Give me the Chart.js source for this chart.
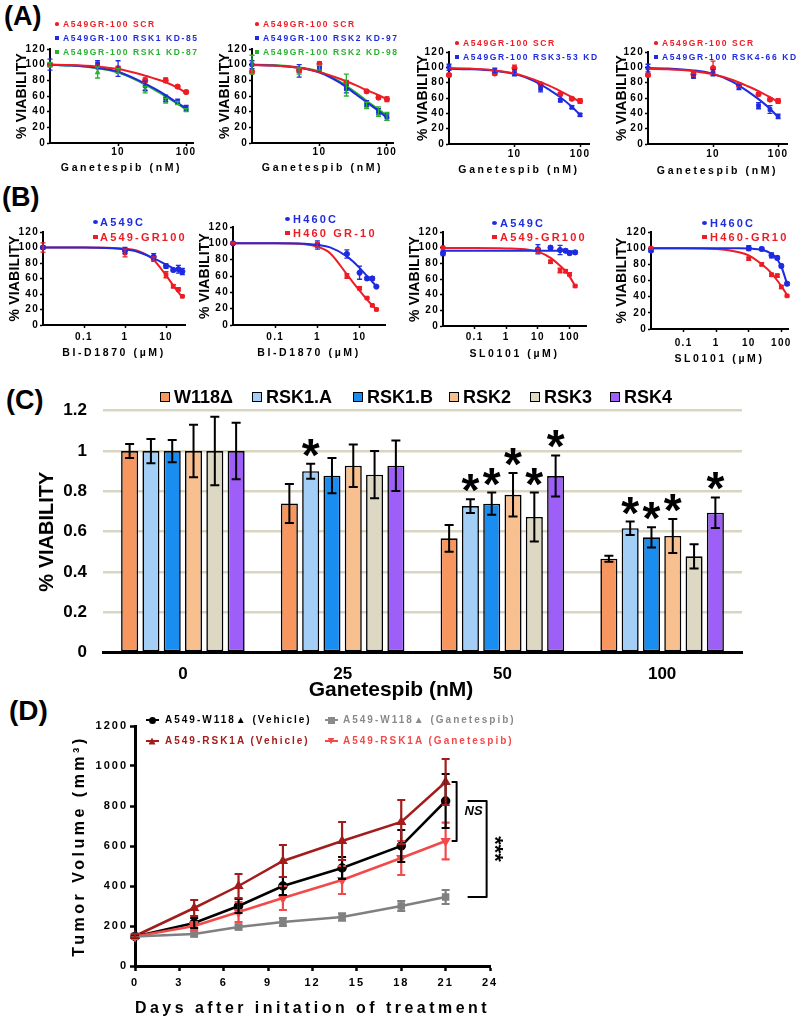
<!DOCTYPE html>
<html><head><meta charset="utf-8"><title>Figure</title>
<script src="https://cdn.jsdelivr.net/npm/chart.js@4.4.1/dist/chart.umd.min.js"></script>
<style>
 html,body{margin:0;padding:0;background:#fff}
 body{position:relative;width:800px;height:1019px;overflow:hidden;font-family:'Liberation Sans',Arial,Helvetica,sans-serif}
 .t{position:absolute;white-space:nowrap;font-weight:bold;line-height:1}
 .m{position:absolute}
 canvas{position:absolute}
</style></head><body>
<script>
// ================= DATA =================
// ---- Panel A (Ganetespib, nM) ----
const doseA = [1, 5, 10, 25, 50, 75, 100];
const fitDoseA = [1, 2, 5, 10, 20, 35, 50, 75, 100];
const tickA = [10, 100];

const a1Labels = ['A549GR-100 SCR', 'A549GR-100 RSK1 KD-85', 'A549GR-100 RSK1 KD-87'];
const a1Scr = [100, 97, 95, 80, 80, 72, 65];
const a1ScrErr = [2, 0, 3, 3, 3, 2, 2];
const a1ScrFit = [100, 99.5, 97.5, 94.5, 88.5, 82, 77.5, 70.5, 64];
const a1Kd85 = [100, 101, 95, 73, 57, 53, 45];
const a1Kd85Err = [7, 4, 10, 6, 4, 3, 3];
const a1Kd85Fit = [100, 99, 96, 91, 80, 69, 61, 51, 44];
const a1Kd87 = [100, 90, 92, 68, 54, 51, 42];
const a1Kd87Err = [3, 7, 3, 4, 3, 2, 2];
const a1Kd87Fit = [100, 99, 95.5, 90, 79, 67.5, 59.5, 50, 42.5];

const a2Labels = ['A549GR-100 SCR', 'A549GR-100 RSK2 KD-97', 'A549GR-100 RSK2 KD-98'];
const a2Scr = [91, 93, 101, 77, 66, 58, 56];
const a2ScrErr = [2, 3, 3, 3, 2, 2, 3];
const a2ScrFit = [99.5, 99, 96, 90.5, 82, 73.5, 67.5, 61, 56];
const a2Kd97 = [100, 92, 95, 69, 50, 40, 33];
const a2Kd97Err = [5, 8, 3, 5, 4, 4, 4];
const a2Kd97Fit = [100, 99, 96, 90, 77, 62, 52, 41, 32];
const a2Kd98 = [100, 92, 96, 74, 48, 40, 34];
const a2Kd98Err = [12, 4, 3, 14, 4, 6, 5];
const a2Kd98Fit = [100, 99.5, 96.5, 91, 78.5, 64, 54, 43, 35];

const a3Labels = ['A549GR-100 SCR', 'A549GR-100 RSK3-53 KD'];
const a3Scr = [90, 92, 99, 78, 65, 59, 56];
const a3ScrErr = [2, 2, 4, 2, 2, 2, 3];
const a3ScrFit = [99, 98.5, 96, 92, 84, 75.5, 69, 61, 55];
const a3Kd = [100, 96, 93, 72, 57, 48, 38];
const a3KdErr = [4, 3, 4, 4, 2, 2, 2];
const a3KdFit = [98, 97.5, 95.5, 91.5, 82, 70, 61, 48.5, 38];

const a4Labels = ['A549GR-100 SCR', 'A549GR-100 RSK4-66 KD'];
const a4Scr = [90, 91, 99, 77, 65, 58, 56];
const a4ScrErr = [2, 2, 9, 2, 2, 2, 3];
const a4ScrFit = [98, 97.5, 95, 91, 83.5, 75, 69, 61, 55];
const a4Kd = [99, 88, 93, 74, 50, 45, 36];
const a4KdErr = [5, 2, 4, 3, 4, 5, 3];
const a4KdFit = [99, 98.5, 96, 91.5, 81, 68, 58.5, 46, 35];

// ---- Panel B (µM) ----
const doseB12 = [0.01, 1, 5, 10, 15, 20, 25];
const fitDoseB12 = [0.01, 0.1, 0.5, 1, 2, 5, 10, 15, 20, 25];
const tickB12 = [0.1, 1, 10];
const doseB34 = [0.01, 10, 25, 50, 75, 100, 150];
const fitDoseB34 = [0.01, 0.1, 1, 5, 10, 25, 50, 75, 100, 150];
const tickB34 = [0.1, 1, 10, 100];

const b1Labels = ['A549C', 'A549-GR100'];
const b1Ctrl = [100, 96, 88, 76, 71, 72, 69];
const b1CtrlErr = [2, 4, 4, 3, 2, 5, 4];
const b1CtrlFit = [100, 100, 99, 97.5, 94.5, 86, 78, 73, 70, 68];
const b1Res = [100, 93, 85, 65, 50, 46, 37];
const b1ResErr = [6, 5, 3, 4, 2, 2, 1];
const b1ResFit = [100, 100, 99.5, 98.5, 96, 84, 64, 51, 42, 36];

const b2Labels = ['H460C', 'H460 GR-10'];
const b2Ctrl = [100, 98, 87, 64, 57, 57, 47];
const b2CtrlErr = [1, 5, 5, 8, 2, 2, 1];
const b2CtrlFit = [100, 100, 99.5, 98, 95, 84, 70, 60, 53, 47];
const b2Res = [100, 98, 60, 45, 33, 24, 19];
const b2ResErr = [1, 3, 3, 2, 1, 1, 1];
const b2ResFit = [100, 100, 99, 96, 88, 62, 42, 31, 24, 19];

const b3Labels = ['A549C', 'A549-GR100'];
const b3Ctrl = [93, 98, 100, 97, 96, 93, 94];
const b3CtrlErr = [3, 6, 2, 6, 2, 2, 2];
const b3CtrlFit = [96, 96, 96, 96, 96, 96, 96, 96, 95.5, 95.5];
const b3Res = [100, 96, 82, 71, 70, 66, 51];
const b3ResErr = [1, 3, 2, 3, 2, 2, 1];
const b3ResFit = [99.5, 99.5, 99, 97.5, 95, 87, 77, 70, 63, 51];

const b4Labels = ['H460C', 'H460-GR10'];
const b4Ctrl = [97, 100, 99, 91, 88, 78, 56];
const b4CtrlErr = [2, 3, 2, 3, 2, 2, 2];
const b4CtrlFit = [100, 100, 100, 100, 99.5, 98, 93, 86, 77, 56];
const b4Res = [100, 87, 80, 67, 66, 52, 41];
const b4ResErr = [1, 2, 2, 2, 2, 2, 1];
const b4ResFit = [100, 100, 99, 95, 91, 80, 69, 60, 53, 42];

// ---- Panel C ----
const groupsC = ['0', '25', '50', '100'];
const labelsC = ['W118Δ', 'RSK1.A', 'RSK1.B', 'RSK2', 'RSK3', 'RSK4'];
const w118 = [1.0, 0.74, 0.567, 0.466];
const w118Err = [0.035, 0.097, 0.066, 0.015];
const w118Sig = [0, 0, 0, 0];
const rsk1a = [1.0, 0.90, 0.727, 0.617];
const rsk1aErr = [0.06, 0.037, 0.034, 0.033];
const rsk1aSig = [0, 1, 1, 1];
const rsk1b = [1.0, 0.878, 0.739, 0.572];
const rsk1bErr = [0.055, 0.087, 0.055, 0.05];
const rsk1bSig = [0, 0, 1, 1];
const rsk2 = [1.0, 0.927, 0.783, 0.579];
const rsk2Err = [0.13, 0.105, 0.108, 0.084];
const rsk2Sig = [0, 0, 1, 1];
const rsk3 = [1.0, 0.883, 0.673, 0.478];
const rsk3Err = [0.17, 0.117, 0.121, 0.06];
const rsk3Sig = [0, 0, 1, 0];
const rsk4 = [1.0, 0.927, 0.876, 0.694];
const rsk4Err = [0.14, 0.125, 0.102, 0.076];
const rsk4Sig = [0, 0, 1, 1];

// ---- Panel D ----
const days = [0, 4, 7, 10, 14, 18, 21];
const legendD = ['A549-W118▲ (Vehicle)', 'A549-W118▲ (Ganetespib)', 'A549-RSK1A (Vehicle)', 'A549-RSK1A (Ganetespib)'];
const w118Veh = [148, 215, 300, 400, 490, 600, 825];
const w118VehErr = [8, 25, 35, 45, 55, 80, 135];
const w118Gan = [148, 160, 195, 220, 245, 300, 345];
const w118GanErr = [8, 12, 12, 20, 18, 25, 35];
const rsk1aVeh = [150, 290, 400, 525, 625, 720, 920];
const rsk1aVehErr = [8, 40, 60, 80, 95, 110, 115];
const rsk1aGan = [148, 200, 270, 340, 430, 540, 625];
const rsk1aGanErr = [8, 20, 50, 60, 70, 85, 92];
const statLabels = ['NS', '***'];

// ================= HELPERS =================
Chart.defaults.font.family = "'Liberation Sans', Arial, Helvetica, sans-serif";
Chart.defaults.font.weight = 'bold';
Chart.defaults.color = '#000';
Chart.defaults.animation = false;

const RED = '#ee1c24', BLUE = '#1f2be0', GREEN = '#27b32c';

function addText(s, x, y, o) {
  o = o || {};
  const d = document.createElement('div');
  d.className = 't';
  d.textContent = s;
  const size = o.size || 10;
  d.style.fontSize = size + 'px';
  d.style.letterSpacing = (o.ls || 0) + 'px';
  d.style.color = o.color || '#000';
  if (o.italic) d.style.fontStyle = 'italic';
  d.style.top = (y - size * 0.5) + 'px';
  d.style.left = x + 'px';
  if (o.center) d.style.transform = 'translateX(-50%)';
  document.body.appendChild(d);
  return d;
}
function addMarker(x, y, color, shape, w, h) {
  const d = document.createElement('div');
  d.className = 'm';
  d.style.left = (x - w / 2) + 'px'; d.style.top = (y - h / 2) + 'px';
  d.style.width = w + 'px'; d.style.height = h + 'px';
  d.style.background = color;
  if (shape === 'circle') d.style.borderRadius = '50%';
  if (shape === 'triangle') d.style.clipPath = 'polygon(50% 0,100% 100%,0 100%)';
  if (shape === 'triangleDown') d.style.clipPath = 'polygon(0 0,100% 0,50% 100%)';
  document.body.appendChild(d);
  return d;
}

function spacingPlugin(map) {
  return {
    id: 'spacing',
    beforeInit(chart) {
      const ctx = chart.ctx;
      const get = () => { const m = /([\d.]+)px/.exec(ctx.font); return ((m && map[m[1]]) || 0) + 'px'; };
      const ft = ctx.fillText, mt = ctx.measureText;
      ctx.fillText = function (t, x, y, w) {
        this.letterSpacing = get();
        return (w === undefined) ? ft.call(this, t, x, y) : ft.call(this, t, x, y, w);
      };
      ctx.measureText = function (t) { this.letterSpacing = get(); return mt.call(this, t); };
    }
  };
}

const errPlugin = {
  id: 'errbars',
  afterDatasetsDraw(chart) {
    const ctx = chart.ctx;
    chart.data.datasets.forEach((ds, di) => {
      if (!ds.errors) return;
      const meta = chart.getDatasetMeta(di);
      const ys = chart.scales[meta.yAxisID];
      ctx.save();
      ctx.strokeStyle = ds.errColor; ctx.lineWidth = ds.errWidth;
      meta.data.forEach((el, i) => {
        const e = ds.errors[i]; if (!e) return;
        const raw = ds.data[i]; const v = (raw && typeof raw === 'object') ? raw.y : raw;
        const x = el.x, yt = ys.getPixelForValue(v + e), yb = ys.getPixelForValue(v - e), c = ds.capWidth;
        ctx.beginPath();
        ctx.moveTo(x, yt); ctx.lineTo(x, yb);
        ctx.moveTo(x - c, yt); ctx.lineTo(x + c, yt);
        ctx.moveTo(x - c, yb); ctx.lineTo(x + c, yb);
        ctx.stroke();
      });
      ctx.restore();
    });
  }
};

function makeCanvas(box) {
  const [L, T, W, H] = box;
  const cv = document.createElement('canvas');
  cv.width = W; cv.height = H;
  cv.style.left = L + 'px'; cv.style.top = T + 'px';
  cv.style.width = W + 'px'; cv.style.height = H + 'px';
  document.body.appendChild(cv);
  return cv;
}

function doseChart(cfg) {
  const [L, T, W, H] = cfg.box; const [x0, y0, x1, y1] = cfg.plot;
  const cv = makeCanvas(cfg.box);
  const yW = x0 - L, padTop = y0 - T, padRight = L + W - x1, xH = T + H - y1;
  const datasets = [];
  cfg.series.forEach(s => datasets.push({
    data: cfg.fitX.map((x, i) => ({ x, y: s.fit[i] })), showLine: true, borderColor: s.color,
    borderWidth: 2, pointRadius: 0, cubicInterpolationMode: 'monotone', fill: false
  }));
  cfg.series.forEach(s => datasets.push({
    data: cfg.doses.map((x, i) => ({ x, y: s.y[i] })), showLine: false, pointStyle: s.shape,
    pointRadius: 2.6, backgroundColor: s.color, borderColor: s.color, borderWidth: 1,
    errors: s.err, errColor: s.color, errWidth: 1.3, capWidth: 2.5, clip: false
  }));
  new Chart(cv, {
    type: 'scatter',
    data: { datasets },
    plugins: [errPlugin, spacingPlugin({ '10': 1.3, '10.5': 2.6, '14': 0.2 })],
    options: {
      responsive: false, animation: false, events: [],
      layout: { padding: { top: padTop, right: padRight, left: 0, bottom: 0 } },
      plugins: { legend: { display: false }, tooltip: { enabled: false } },
      scales: {
        x: {
          type: 'logarithmic', min: cfg.xMin, max: cfg.xMax,
          afterBuildTicks: s => { s.ticks = cfg.ticks.map(v => ({ value: v })); },
          ticks: { font: { size: 10 }, padding: cfg.xtPad, callback: v => String(v), autoSkip: false, maxRotation: 0 },
          grid: { drawOnChartArea: false, tickLength: 3, tickColor: '#000', tickWidth: 1.5 },
          border: { color: '#000', width: 2 },
          title: { display: true, text: cfg.xTitle, font: { size: 10.5 }, padding: { bottom: cfg.xtOff - 6.3, top: 0 } },
          afterFit: s => { s.height = xH; }
        },
        y: {
          min: 0, max: 120,
          ticks: { stepSize: 20, font: { size: 10 }, padding: 1 },
          grid: { drawOnChartArea: false, tickLength: 3, tickColor: '#000', tickWidth: 1.5 },
          border: { color: '#000', width: 2 },
          title: { display: true, text: '% VIABILITY', font: { size: 14 }, padding: { top: cfg.ytOff - 8.4, bottom: 0 } },
          afterFit: s => { s.width = yW; }
        }
      }
    }
  });
  // legend
  cfg.series.forEach((s, i) => {
    addMarker(cfg.leg.mx, cfg.leg.ys[i], s.color, s.shape === 'circle' ? 'circle' : 'rect', cfg.leg.msz, cfg.leg.msz - 1);
    addText(cfg.labels[i], cfg.leg.tx, cfg.leg.ys[i], { size: cfg.leg.size, ls: cfg.leg.ls, color: s.color });
  });
}

// ================= PANEL LABELS =================
addText('(A)', 4, 16, { size: 27 });
addText('(B)', 2, 197, { size: 27 });
addText('(C)', 6, 400, { size: 27 });
addText('(D)', 9, 711, { size: 28 });

// ================= PANEL A =================
const legA3 = { size: 8.5, ls: 1.6, msz: 4.5 };
doseChart({
  box: [0, 40, 200, 140], plot: [50, 49, 193, 143], xMin: 1, xMax: 126, ticks: tickA,
  doses: doseA, fitX: fitDoseA, xTitle: 'Ganetespib (nM)', ytOff: 22, xtOff: 12, xtPad: 0,
  labels: a1Labels,
  series: [
    { y: a1Scr, err: a1ScrErr, fit: a1ScrFit, color: RED, shape: 'circle' },
    { y: a1Kd85, err: a1Kd85Err, fit: a1Kd85Fit, color: BLUE, shape: 'rect' },
    { y: a1Kd87, err: a1Kd87Err, fit: a1Kd87Fit, color: GREEN, shape: 'triangle' }
  ],
  leg: Object.assign({ mx: 57, tx: 63, ys: [24, 38, 52] }, legA3)
});
doseChart({
  box: [200, 40, 200, 140], plot: [252, 49, 393, 143], xMin: 1, xMax: 123, ticks: tickA,
  doses: doseA, fitX: fitDoseA, xTitle: 'Ganetespib (nM)', ytOff: 25, xtOff: 12, xtPad: 0,
  labels: a2Labels,
  series: [
    { y: a2Scr, err: a2ScrErr, fit: a2ScrFit, color: RED, shape: 'circle' },
    { y: a2Kd97, err: a2Kd97Err, fit: a2Kd97Fit, color: BLUE, shape: 'rect' },
    { y: a2Kd98, err: a2Kd98Err, fit: a2Kd98Fit, color: GREEN, shape: 'triangle' }
  ],
  leg: Object.assign({ mx: 257, tx: 263, ys: [24, 38, 52] }, legA3)
});
doseChart({
  box: [400, 40, 200, 140], plot: [449, 52, 589, 144], xMin: 1, xMax: 137, ticks: tickA,
  doses: doseA, fitX: fitDoseA, xTitle: 'Ganetespib (nM)', ytOff: 23, xtOff: 10, xtPad: 1,
  labels: a3Labels,
  series: [
    { y: a3Scr, err: a3ScrErr, fit: a3ScrFit, color: RED, shape: 'circle' },
    { y: a3Kd, err: a3KdErr, fit: a3KdFit, color: BLUE, shape: 'rect' }
  ],
  leg: Object.assign({ mx: 457, tx: 463, ys: [43, 57] }, legA3)
});
doseChart({
  box: [600, 40, 200, 140], plot: [648, 52, 787, 144], xMin: 1, xMax: 137, ticks: tickA,
  doses: doseA, fitX: fitDoseA, xTitle: 'Ganetespib (nM)', ytOff: 22, xtOff: 9, xtPad: 1,
  labels: a4Labels,
  series: [
    { y: a4Scr, err: a4ScrErr, fit: a4ScrFit, color: RED, shape: 'circle' },
    { y: a4Kd, err: a4KdErr, fit: a4KdFit, color: BLUE, shape: 'rect' }
  ],
  leg: Object.assign({ mx: 656, tx: 662, ys: [43, 57] }, legA3)
});

// ================= PANEL B =================
const legB = { size: 11, ls: 2.2, msz: 5 };
doseChart({
  box: [0, 215, 200, 153], plot: [43, 232, 185, 325], xMin: 0.01, xMax: 29, ticks: tickB12,
  doses: doseB12, fitX: fitDoseB12, xTitle: 'BI-D1870 (µM)', ytOff: 15, xtOff: 15, xtPad: 3,
  labels: b1Labels,
  series: [
    { y: b1Ctrl, err: b1CtrlErr, fit: b1CtrlFit, color: BLUE, shape: 'circle' },
    { y: b1Res, err: b1ResErr, fit: b1ResFit, color: RED, shape: 'rect' }
  ],
  leg: Object.assign({ mx: 95, tx: 100, ys: [222, 237] }, legB)
});
doseChart({
  box: [190, 215, 210, 153], plot: [233, 227, 385, 325], xMin: 0.01, xMax: 40, ticks: tickB12,
  doses: doseB12, fitX: fitDoseB12, xTitle: 'BI-D1870 (µM)', ytOff: 15, xtOff: 15, xtPad: 3,
  labels: b2Labels,
  series: [
    { y: b2Ctrl, err: b2CtrlErr, fit: b2CtrlFit, color: BLUE, shape: 'circle' },
    { y: b2Res, err: b2ResErr, fit: b2ResFit, color: RED, shape: 'rect' }
  ],
  leg: Object.assign({ mx: 287, tx: 293, ys: [219, 233] }, legB)
});
doseChart({
  box: [400, 215, 200, 153], plot: [443, 232, 586, 326], xMin: 0.01, xMax: 330, ticks: tickB34,
  doses: doseB34, fitX: fitDoseB34, xTitle: 'SL0101 (µM)', ytOff: 15, xtOff: 14, xtPad: 2,
  labels: b3Labels,
  series: [
    { y: b3Ctrl, err: b3CtrlErr, fit: b3CtrlFit, color: BLUE, shape: 'circle' },
    { y: b3Res, err: b3ResErr, fit: b3ResFit, color: RED, shape: 'rect' }
  ],
  leg: Object.assign({ mx: 494, tx: 500, ys: [223, 237] }, legB)
});
doseChart({
  box: [600, 215, 200, 153], plot: [651, 232, 788, 329], xMin: 0.01, xMax: 160, ticks: tickB34,
  doses: doseB34, fitX: fitDoseB34, xTitle: 'SL0101 (µM)', ytOff: 22, xtOff: 9, xtPad: 5,
  labels: b4Labels,
  series: [
    { y: b4Ctrl, err: b4CtrlErr, fit: b4CtrlFit, color: BLUE, shape: 'circle' },
    { y: b4Res, err: b4ResErr, fit: b4ResFit, color: RED, shape: 'rect' }
  ],
  leg: Object.assign({ mx: 704, tx: 710, ys: [223, 237] }, legB)
});

// ================= PANEL C =================
(function () {
  const box = [0, 395, 800, 290], plot = [103, 410.7, 742, 652.7];
  const [L, T, W, H] = box; const [x0, y0, x1, y1] = plot;
  const cv = makeCanvas(box);
  const colorsC = ['#f7975f', '#a3cff7', '#1a8ef0', '#f8c08f', '#dcd8c4', '#9d5ff7'];
  const vals = [w118, rsk1a, rsk1b, rsk2, rsk3, rsk4];
  const errs = [w118Err, rsk1aErr, rsk1bErr, rsk2Err, rsk3Err, rsk4Err];
  const sigs = [w118Sig, rsk1aSig, rsk1bSig, rsk2Sig, rsk3Sig, rsk4Sig];
  const starPlugin = {
    id: 'stars',
    afterDatasetsDraw(chart) {
      const ctx = chart.ctx; const ys = chart.scales.y;
      ctx.save();
      ctx.fillStyle = '#000';
      ctx.font = "bold 46px 'Liberation Sans', Arial, sans-serif";
      ctx.textAlign = 'center'; ctx.textBaseline = 'alphabetic';
      const m = ctx.measureText('*');
      const off = (m.actualBoundingBoxAscent - m.actualBoundingBoxDescent) / 2;
      chart.data.datasets.forEach((ds, di) => {
        const meta = chart.getDatasetMeta(di);
        meta.data.forEach((el, i) => {
          if (!ds.sig[i]) return;
          const cy = ys.getPixelForValue(ds.data[i] + ds.errors[i]) - 16;
          ctx.fillText('*', el.x, cy + off);
        });
      });
      ctx.restore();
    }
  };
  new Chart(cv, {
    type: 'bar',
    data: {
      labels: groupsC,
      datasets: labelsC.map((lab, k) => ({
        label: lab, data: vals[k], errors: errs[k], sig: sigs[k],
        backgroundColor: colorsC[k], borderColor: '#000', borderWidth: 1.6, borderSkipped: false,
        categoryPercentage: 0.8, barPercentage: 0.8,
        errColor: '#000', errWidth: 2, capWidth: 4.5
      }))
    },
    plugins: [errPlugin, starPlugin],
    options: {
      responsive: false, animation: false, events: [],
      layout: { padding: { top: y0 - T, right: L + W - x1, left: 0, bottom: 0 } },
      plugins: { legend: { display: false }, tooltip: { enabled: false } },
      scales: {
        x: {
          grid: { display: false }, border: { display: true, color: '#000', width: 3 },
          ticks: { font: { size: 17 }, padding: 3 },
          afterFit: s => { s.height = T + H - y1; }
        },
        y: {
          min: 0, max: 1.2,
          ticks: { stepSize: 0.2, font: { size: 17 }, padding: 2, callback: v => String(Math.round(v * 10) / 10) },
          grid: { color: '#d9d5c3', lineWidth: 2.5, drawTicks: true, tickLength: 14, tickColor: 'rgba(0,0,0,0)' },
          border: { display: false },
          title: { display: true, text: '% VIABILITY', font: { size: 20 }, padding: { top: 35, bottom: 0 } },
          afterFit: s => { s.width = x0 - L; }
        }
      }
    }
  });
  // legend
  const legX = [160, 252, 353, 449, 530, 610];
  labelsC.forEach((lab, k) => {
    const b = addMarker(legX[k] + 5, 397, colorsC[k], 'rect', 10, 10);
    b.style.border = '1.5px solid #000'; b.style.boxSizing = 'border-box';
    addText(lab, legX[k] + 14, 397, { size: 18 });
  });
  addText('Ganetespib (nM)', 391, 688, { size: 21, center: true });
})();

// ================= PANEL D =================
(function () {
  const box = [0, 715, 520, 304], plot = [135, 726, 490, 966];
  const [L, T, W, H] = box; const [x0, y0, x1, y1] = plot;
  const cv = makeCanvas(box);
  const GREY = '#808080', DRED = '#a31c1c', RED2 = '#f24a4a';
  const seriesD = [
    { k: 1, v: w118Gan, e: w118GanErr, color: GREY, shape: 'rect', rot: 0 },
    { k: 3, v: rsk1aGan, e: rsk1aGanErr, color: RED2, shape: 'triangle', rot: 180 },
    { k: 0, v: w118Veh, e: w118VehErr, color: '#000', shape: 'circle', rot: 0 },
    { k: 2, v: rsk1aVeh, e: rsk1aVehErr, color: DRED, shape: 'triangle', rot: 0 }
  ];
  const bracketPlugin = {
    id: 'brackets',
    afterDraw(chart) {
      const ctx = chart.ctx, xs = chart.scales.x, ys = chart.scales.y;
      const last = days.length - 1;
      const xe = xs.getPixelForValue(days[last]);
      ctx.save();
      ctx.strokeStyle = '#000'; ctx.lineWidth = 2; ctx.lineJoin = 'round';
      const br = (vTop, vBot, xa, xb) => {
        const yt = ys.getPixelForValue(vTop), yb = ys.getPixelForValue(vBot);
        ctx.beginPath(); ctx.moveTo(xe + xa, yt); ctx.lineTo(xe + xb, yt); ctx.lineTo(xe + xb, yb); ctx.lineTo(xe + xa, yb); ctx.stroke();
        return (yt + yb) / 2;
      };
      const m1 = br(rsk1aVeh[last], rsk1aGan[last], 6, 11);
      const m2 = br(w118Veh[last], w118Gan[last], 22, 41);
      ctx.fillStyle = '#000';
      ctx.font = "italic bold 13px 'Liberation Sans', Arial, sans-serif";
      ctx.textAlign = 'center'; ctx.textBaseline = 'middle';
      ctx.fillText(statLabels[0], xe + 28, m1);
      ctx.translate(xe + 52, m2); ctx.rotate(Math.PI / 2);
      ctx.font = "bold 22px 'Liberation Sans', Arial, sans-serif";
      ctx.fillText(statLabels[1], 0, 4);
      ctx.restore();
    }
  };
  new Chart(cv, {
    type: 'scatter',
    data: {
      datasets: seriesD.map(s => ({
        label: legendD[s.k], data: days.map((d, i) => ({ x: d, y: s.v[i] })), showLine: true,
        borderColor: s.color, backgroundColor: s.color, borderWidth: 2.5, pointStyle: s.shape,
        pointRotation: s.rot, pointRadius: 3.5, errors: s.e, errColor: s.color, errWidth: 2.2, capWidth: 4, clip: false
      }))
    },
    plugins: [errPlugin, bracketPlugin, spacingPlugin({ '11': 2, '16': 3.5 })],
    options: {
      responsive: false, animation: false, events: [],
      layout: { padding: { top: y0 - T, right: L + W - x1, left: 0, bottom: 0 } },
      plugins: { legend: { display: false }, tooltip: { enabled: false } },
      scales: {
        x: {
          type: 'linear', min: 0, max: 24,
          ticks: { stepSize: 3, font: { size: 11 }, padding: 5, callback: v => String(v) },
          grid: { drawOnChartArea: false, tickLength: 5, tickColor: '#000', tickWidth: 2.5 },
          border: { color: '#000', width: 3 },
          title: { display: true, text: 'Days after initation of treatment', font: { size: 16 }, padding: { bottom: 0.4, top: 0 } },
          afterFit: s => { s.height = T + H - y1; }
        },
        y: {
          min: 0, max: 1200,
          ticks: { stepSize: 200, font: { size: 11 }, padding: 2, callback: v => String(v) },
          grid: { drawOnChartArea: false, tickLength: 5, tickColor: '#000', tickWidth: 2.5 },
          border: { color: '#000', width: 3 },
          title: { display: true, text: 'Tumor Volume (mm³)', font: { size: 16 }, padding: { top: 70.4, bottom: 0 } },
          afterFit: s => { s.width = x0 - L; }
        }
      }
    }
  });
  // legend
  const legPos = [[152, 165, 720], [331, 343, 720], [152, 165, 741], [331, 343, 741]];
  const legCol = ['#000', '#8a8a8a', DRED, RED2];
  const legShape = ['circle', 'rect', 'triangle', 'triangleDown'];
  legendD.forEach((lab, k) => {
    const [mx, tx, y] = legPos[k];
    addMarker(mx, y, legCol[k], 'rect', 13, 2.5);
    addMarker(mx, y, legCol[k], legShape[k], 7, 7);
    addText(lab, tx, y, { size: 10, ls: 2, color: legCol[k] });
  });
})();
</script>
</body></html>
